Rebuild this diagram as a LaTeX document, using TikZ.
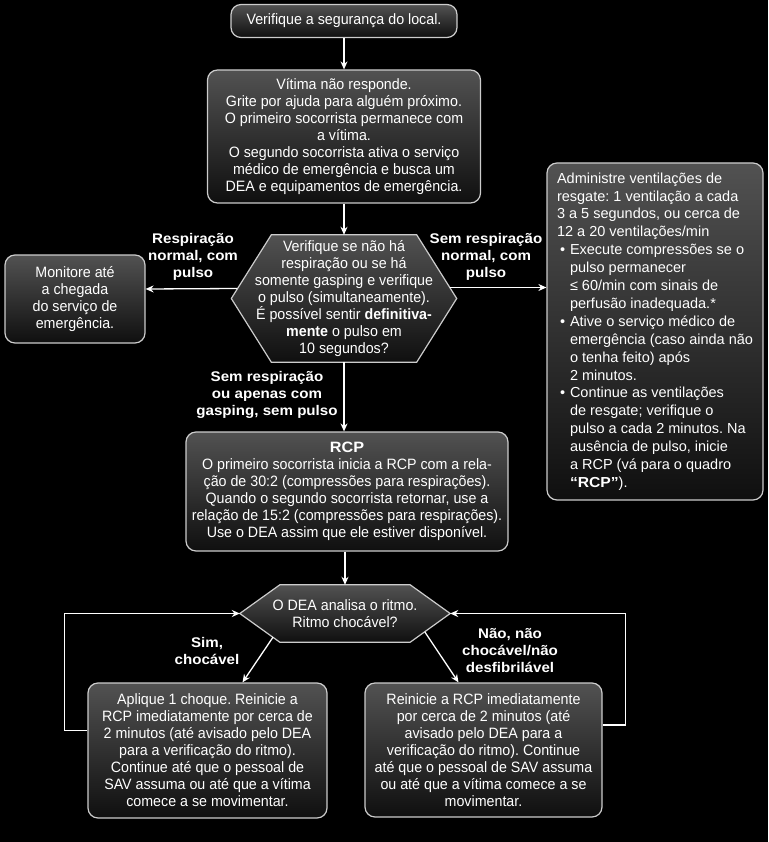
\documentclass[tikz,border=0pt]{standalone}
\usepackage{fontspec}
\setmainfont{Liberation Sans}[FakeStretch=0.95]
\newfontfamily\widefont{Liberation Sans}
\newfontfamily\lblfont{Liberation Sans}[FakeStretch=1.08]
\usetikzlibrary{positioning,arrows.meta,backgrounds}
\frenchspacing

\newcommand{\bpt}{\makebox[13pt][l]{\hspace{3pt}\textbullet}}
\newcommand{\bind}{\hspace*{13pt}}

\tikzset{
  box/.style={draw=white!80!black,line width=1.2pt,rounded corners=10pt,
    top color=white!32!black,bottom color=white!6!black,text=white,
    align=center,inner sep=0pt,font=\fontsize{15}{17}\selectfont},
  hexfill/.style={draw=white!80!black,line width=1.2pt,
    top color=white!32!black,bottom color=white!6!black},
  hextext/.style={text=white,align=center,inner sep=0pt,font=\fontsize{15}{17}\selectfont},
  choice/.style={text=white,align=center,font=\lblfont\bfseries\fontsize{14}{17}\selectfont},
  arr/.style={draw=white,line width=1.3pt,-{Stealth[length=8pt,width=7pt]}}
}

\begin{document}
\begin{tikzpicture}[x=1pt,y=-1pt]
\useasboundingbox (0,0) rectangle (768,842);
\begin{scope}[on background layer]
  \fill[black] (0,0) rectangle (768,842);
\end{scope}

\node[box,minimum width=226,minimum height=33] (safe) at (344,21) {Verifique a segurança do local.};
\node[box,minimum width=273,minimum height=133] (vit) at (344,136.5) {Vítima não responde.\\
  Grite por ajuda para alguém próximo.\\O primeiro socorrista permanece com\\a vítima.\\
  O segundo socorrista ativa o serviço\\médico de emergência e busca um\\DEA e equipamentos de emergência.};
\node[hextext,minimum width=225,minimum height=127] (chk) at (344,298.5) {Verifique se não há\\
  respiração ou se há\\somente gasping e verifique\\o pulso (simultaneamente).\\
  É possível sentir \textbf{definitiva-}\\\textbf{mente} o pulso em\\10 segundos?};
\node[box,minimum width=140,minimum height=88] (mon) at (75,299) {Monitore até\\a chegada\\do serviço de\\emergência.};
\node[box,minimum width=216,minimum height=337,align=left,
  font=\widefont\fontsize{14.5}{17.9}\selectfont] (adm) at (655,331.5) {Administre ventilações de\\
  resgate: 1 ventilação a cada\\3 a 5 segundos, ou cerca de\\12 a 20 ventilações/min\\
  \bpt Execute compressões se o\\\bind pulso permanecer\\\bind ≤ 60/min com sinais de\\\bind perfusão inadequada.*\\
  \bpt Ative o serviço médico de\\\bind emergência (caso ainda não\\\bind o tenha feito) após\\\bind 2 minutos.\\
  \bpt Continue as ventilações\\\bind de resgate; verifique o\\\bind pulso a cada 2 minutos. Na\\
  \bind ausência de pulso, inicie\\\bind a RCP (vá para o quadro\\\bind {\lblfont\bfseries “RCP”}).};
\node[box,minimum width=322,minimum height=119] (rcp) at (347,491.5) {{\lblfont\bfseries RCP}\\
  O primeiro socorrista inicia a RCP com a rela-\\ção de 30:2 (compressões para respirações).\\
  Quando o segundo socorrista retornar, use a\\relação de 15:2 (compressões para respirações).\\
  Use o DEA assim que ele estiver disponível.};
\node[hextext,minimum width=210,minimum height=57] (dea) at (345,613.5) {O DEA analisa o ritmo.\\Ritmo chocável?};
\node[box,minimum width=239,minimum height=135] (shk) at (207.5,750.5) {Aplique 1 choque. Reinicie a\\
  RCP imediatamente por cerca de\\2 minutos (até avisado pelo DEA\\para a verificação do ritmo).\\
  Continue até que o pessoal de\\SAV assuma ou até que a vítima\\comece a se movimentar.};
\node[box,minimum width=237,minimum height=134] (rei) at (483.5,750) {Reinicie a RCP imediatamente\\
  por cerca de 2 minutos (até\\avisado pelo DEA para a\\verificação do ritmo). Continue\\
  até que o pessoal de SAV assuma\\ou até que a vítima comece a se\\movimentar.};

\begin{scope}[on background layer]
  \shade[hexfill] (chk.west) -- ([xshift=40]chk.north west) -- ([xshift=-40]chk.north east) -- (chk.east)
    -- ([xshift=-40]chk.south east) -- ([xshift=40]chk.south west) -- cycle;
  \shade[hexfill] (dea.west) -- ([xshift=40]dea.north west) -- ([xshift=-40]dea.north east) -- (dea.east)
    -- ([xshift=-40]dea.south east) -- ([xshift=40]dea.south west) -- cycle;
\end{scope}

\node[choice] (lnorm) at (193,257) {Respiração\\normal, com\\pulso};
\node[choice] (lsem) at (486,257) {Sem respiração\\normal, com\\pulso};
\node[choice] (lgasp) at (267,395) {Sem respiração\\ou apenas com\\gasping, sem pulso};
\node[choice] (lsim) at (207,651) {Sim,\\chocável};
\node[choice] (lnao) at (510,651) {Não, não\\chocável/não\\desfibrilável};

\coordinate (ra) at ([xshift=-7,yshift=11]chk.east);
\draw[arr] (safe) -- (vit);
\draw[arr] (vit) -- (chk);
\draw[arr] ([xshift=6,yshift=10]chk.west) -- ([yshift=10]mon.east);
\draw[arr] (ra) -- (ra -| adm.west);
\draw[arr] (chk) -- (rcp.north -| chk);
\draw[arr] (rcp.south -| dea) -- (dea);
\draw[arr] ([xshift=-72,yshift=5]dea.south) -- ([xshift=35]shk.north);
\draw[arr] ([xshift=80,yshift=10]dea.south) -- ([xshift=-25]rei.north);
\draw[arr] ([yshift=20]shk.west) -- ++(-23,0) |- (dea.west);
\draw[arr] ([yshift=25]rei.east) -- ++(23,0) |- (dea.east);
\end{tikzpicture}
\end{document}
